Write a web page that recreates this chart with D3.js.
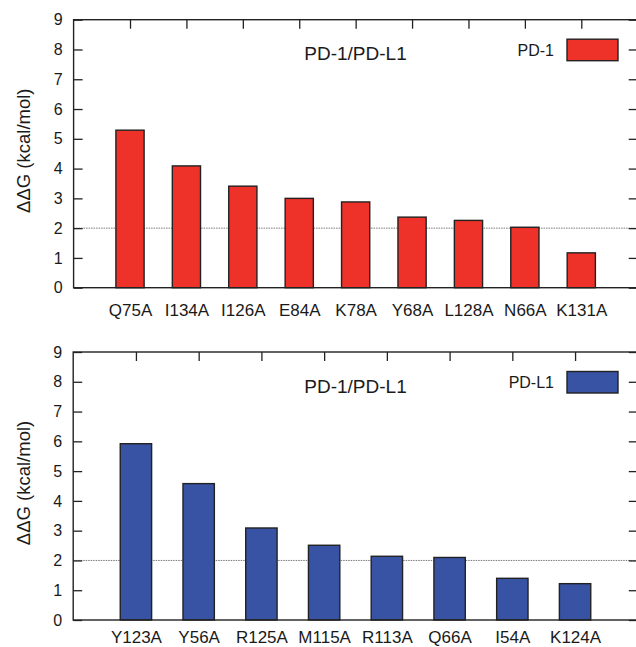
<!DOCTYPE html>
<html>
<head>
<meta charset="utf-8">
<script src="https://cdn.jsdelivr.net/npm/d3@7"></script>
<style>
  html, body { margin: 0; padding: 0; background: #fff; }
  svg { display: block; }
  text { font-family: "Liberation Sans", Arial, Helvetica, sans-serif; fill: #1a1a1a; }
</style>
</head>
<body>
<svg id="chart" width="636" height="647"></svg>
<script>
// ---- Data ----
const pd1Categories = ["Q75A", "I134A", "I126A", "E84A", "K78A", "Y68A", "L128A", "N66A", "K131A"];
const pd1Values = [5.29, 4.09, 3.41, 3.0, 2.88, 2.37, 2.26, 2.03, 1.17];
const pdl1Categories = ["Y123A", "Y56A", "R125A", "M115A", "R113A", "Q66A", "I54A", "K124A"];
const pdl1Values = [5.92, 4.58, 3.09, 2.51, 2.14, 2.10, 1.40, 1.22];
const yTicks = [0, 1, 2, 3, 4, 5, 6, 7, 8, 9];
const title = "PD-1/PD-L1";
const yLabel = "ΔΔG (kcal/mol)";
const thresholdValue = 2;

const svg = d3.select("#chart");

function panel(opts) {
  const { categories, values, legend, color, left, right, top, bottom, labelPad } = opts;
  const g = svg.append("g");
  const n = categories.length;
  const x = d3.scaleLinear().domain([0, n + 1]).range([left, right]);
  const y = d3.scaleLinear().domain([0, 9]).range([bottom, top]);
  const step = x(1) - x(0);
  const idx = d3.range(1, n + 1);

  // threshold dotted line
  g.append("line")
    .attr("x1", left).attr("x2", right)
    .attr("y1", y(thresholdValue)).attr("y2", y(thresholdValue))
    .attr("stroke", "#555").attr("stroke-width", 0.8)
    .attr("stroke-dasharray", "1.5,1");

  // bars
  g.selectAll("rect.bar").data(values).enter().append("rect")
    .attr("class", "bar")
    .attr("x", (d, i) => x(i + 1) - step * 0.25)
    .attr("width", step * 0.5)
    .attr("y", d => y(d))
    .attr("height", d => y(0) - y(d))
    .attr("fill", color)
    .attr("stroke", "#222")
    .attr("stroke-width", 1.4);

  // left axis
  const ax = g.append("g").attr("transform", `translate(${left},0)`)
    .call(d3.axisLeft(y).tickValues(yTicks).tickSize(-9).tickPadding(11).tickFormat(d3.format("d")));
  ax.select(".domain").remove();
  ax.selectAll("line").attr("stroke", "#222").attr("stroke-width", 1.3);
  ax.selectAll("text").style("font-size", "16px").attr("fill", "#1a1a1a");

  // right axis ticks
  const ar = g.append("g").attr("transform", `translate(${right},0)`)
    .call(d3.axisRight(y).tickValues(yTicks).tickSize(-9).tickFormat(""));
  ar.select(".domain").remove();
  ar.selectAll("line").attr("stroke", "#222").attr("stroke-width", 1.3);

  // top axis ticks
  const at = g.append("g").attr("transform", `translate(0,${top})`)
    .call(d3.axisTop(x).tickValues(idx).tickSize(-9).tickFormat(""));
  at.select(".domain").remove();
  at.selectAll("line").attr("stroke", "#222").attr("stroke-width", 1.3);

  // bottom axis labels
  const ab = g.append("g").attr("transform", `translate(0,${bottom})`)
    .call(d3.axisBottom(x).tickValues(idx).tickSize(0).tickPadding(labelPad).tickFormat(i => categories[i - 1]));
  ab.select(".domain").remove();
  ab.selectAll("text").style("font-size", "17px").attr("fill", "#1a1a1a");

  // frame
  g.append("rect")
    .attr("x", left).attr("y", top)
    .attr("width", right - left).attr("height", bottom - top)
    .attr("fill", "none").attr("stroke", "#222").attr("stroke-width", 1.4);

  // title
  g.append("text")
    .attr("x", 355.5).attr("y", top + 40.5)
    .attr("text-anchor", "middle")
    .style("font-size", "19px")
    .text(title);

  // legend
  g.append("rect")
    .attr("x", 567).attr("y", top + 19.5)
    .attr("width", 51).attr("height", 21.5)
    .attr("fill", color).attr("stroke", "#222").attr("stroke-width", 1.4);
  g.append("text")
    .attr("x", 554).attr("y", top + 36)
    .attr("text-anchor", "end")
    .style("font-size", "16px")
    .text(legend);

  // y label
  g.append("text")
    .attr("transform", `translate(30,${(top + bottom) / 2 - 3}) rotate(-90)`)
    .attr("text-anchor", "middle")
    .style("font-size", "18.5px")
    .text(yLabel);
}

panel({ categories: pd1Categories, values: pd1Values, legend: "PD-1", color: "#ee3129",
        left: 73.6, right: 637.7, top: 19.7, bottom: 287.7, labelPad: 16 });
panel({ categories: pdl1Categories, values: pdl1Values, legend: "PD-L1", color: "#3953a4",
        left: 73.2, right: 637.8, top: 352, bottom: 620, labelPad: 11 });
</script>
</body>
</html>
